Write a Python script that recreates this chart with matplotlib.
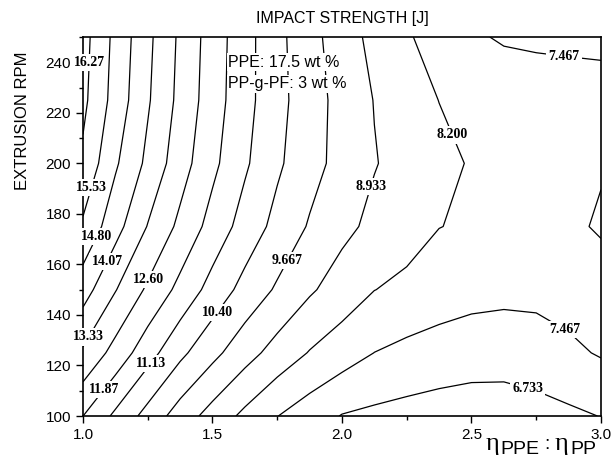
import numpy as np
import matplotlib
matplotlib.use("Agg")
import matplotlib.pyplot as plt

# viscosity ratio (x) and extrusion speed (y) grid
ratio = [1.0, 1.125, 1.25, 1.375, 1.5, 1.625, 1.75, 1.875, 2.0,
         2.125, 2.25, 2.375, 2.5, 2.625, 2.75, 2.875, 3.0]
rpm = [100, 125, 150, 175, 200, 225, 250]

strength = [
    [11.87, 10.99, 10.14, 9.33, 8.65, 8.03, 7.48, 7.08, 6.70, 6.58, 6.49, 6.43, 6.40, 6.42, 6.49, 6.60, 6.75],
    [13.22, 12.34, 11.43, 10.57, 9.87, 9.22, 8.65, 8.16, 7.81, 7.46, 7.28, 7.13, 7.03, 7.00, 7.10, 7.32, 7.53],
    [14.39, 13.37, 12.48, 11.66, 10.86, 10.16, 9.57, 9.03, 8.60, 8.21, 8.04, 7.88, 7.74, 7.68, 7.68, 7.76, 7.90],
    [15.42, 14.34, 13.30, 12.43, 11.60, 10.84, 10.18, 9.60, 9.12, 8.76, 8.48, 8.21, 8.13, 8.09, 8.06, 8.08, 8.27],
    [16.12, 14.90, 13.90, 12.92, 12.04, 11.24, 10.52, 9.93, 9.42, 8.97, 8.68, 8.41, 8.14, 8.05, 8.03, 8.06, 8.15],
    [16.44, 15.25, 14.15, 13.13, 12.21, 11.38, 10.63, 9.99, 9.42, 8.91, 8.55, 8.19, 8.08, 7.98, 7.88, 7.79, 7.70],
    [16.53, 15.34, 14.24, 13.20, 12.26, 11.40, 10.60, 9.92, 9.28, 8.73, 8.27, 7.93, 7.58, 7.38, 7.33, 7.32, 7.33],
]

levels = [6.7333, 7.4667, 8.2, 8.9333, 9.6667, 10.4, 11.1333, 11.8667,
          12.6, 13.3333, 14.0667, 14.8, 15.5333, 16.2667]

plt.rcParams['font.family'] = ['Liberation Sans', 'DejaVu Sans']

W, H = 613, 461
fig = plt.figure(figsize=(W / 100, H / 100), dpi=100)
ax = fig.add_axes([0.1354, 0.0976, 0.845, 0.8221])

X, Y = np.meshgrid(ratio, rpm)
cs = ax.contour(X, Y, np.array(strength), levels=levels, colors='black', linewidths=0.9)

def fmt(v):
    return "%.2f" % v if v >= 10 else "%.3f" % v

# where the labels sit on the original map
label_pos = [(1.015, 240), (1.046, 190), (1.054, 171), (1.097, 161), (1.027, 131),
             (1.251, 154), (1.077, 111), (1.259, 121), (1.521, 141), (1.80, 161),
             (2.139, 190), (2.444, 212), (2.853, 239), (2.853, 133), (2.722, 113)]
with plt.rc_context({'font.family': ['Liberation Serif'], 'font.weight': 'bold'}):
    lbls = ax.clabel(cs, fmt=fmt, manual=label_pos, inline=False, fontsize=10)
for t in lbls:
    t.set_rotation(0)
    t.set_clip_on(False)
    t.set_zorder(5)
    t.set_bbox(dict(facecolor='white', edgecolor='none', pad=1.5))

ax.text(1.56, 240, "PPE: 17.5 wt %", fontsize=11.5, va='center', ha='left',
        bbox=dict(facecolor='white', edgecolor='none', pad=1))
ax.text(1.56, 231.5, "PP-g-PF: 3 wt %", fontsize=11.5, va='center', ha='left',
        bbox=dict(facecolor='white', edgecolor='none', pad=1))

ax.set_xlim(1.0, 3.0)
ax.set_ylim(100, 250)
ax.set_xticks([1.0, 1.5, 2.0, 2.5, 3.0])
ax.set_xticklabels(["1.0", "1.5", "2.0", "2.5", "3.0"])
ax.set_xticks(np.arange(1.0, 3.01, 0.25), minor=True)
ax.set_yticks(np.arange(100, 241, 20))
ax.set_yticks(np.arange(100, 251, 10), minor=True)
ax.tick_params(which='major', length=5, width=1, labelsize=11, direction='out')
ax.tick_params(which='minor', length=3, width=1, direction='out')
for s in ax.spines.values():
    s.set_linewidth(1.2)

ax.set_title("IMPACT STRENGTH [J]", fontsize=11.5, pad=10)
ax.set_ylabel("EXTRUSION RPM", fontsize=12)
ax.yaxis.set_label_coords(-0.103, 0.78)

# x label: eta_PPE : eta_PP, laid out piece by piece (pixel positions)
xlabel_parts = [("\u03b7", 486, 450, 'Liberation Serif', 19),
                ("PPE", 500, 454, 'Liberation Sans', 14),
                (":", 544, 449, 'Liberation Sans', 14),
                ("\u03b7", 555, 450, 'Liberation Serif', 19),
                ("PP", 570, 454, 'Liberation Sans', 14)]
for s, px, py, fam, size in xlabel_parts:
    fig.text(px / W, 1 - py / H, s, family=fam, fontsize=size, ha='left', va='baseline')

fig.savefig("out.png", dpi=100)
